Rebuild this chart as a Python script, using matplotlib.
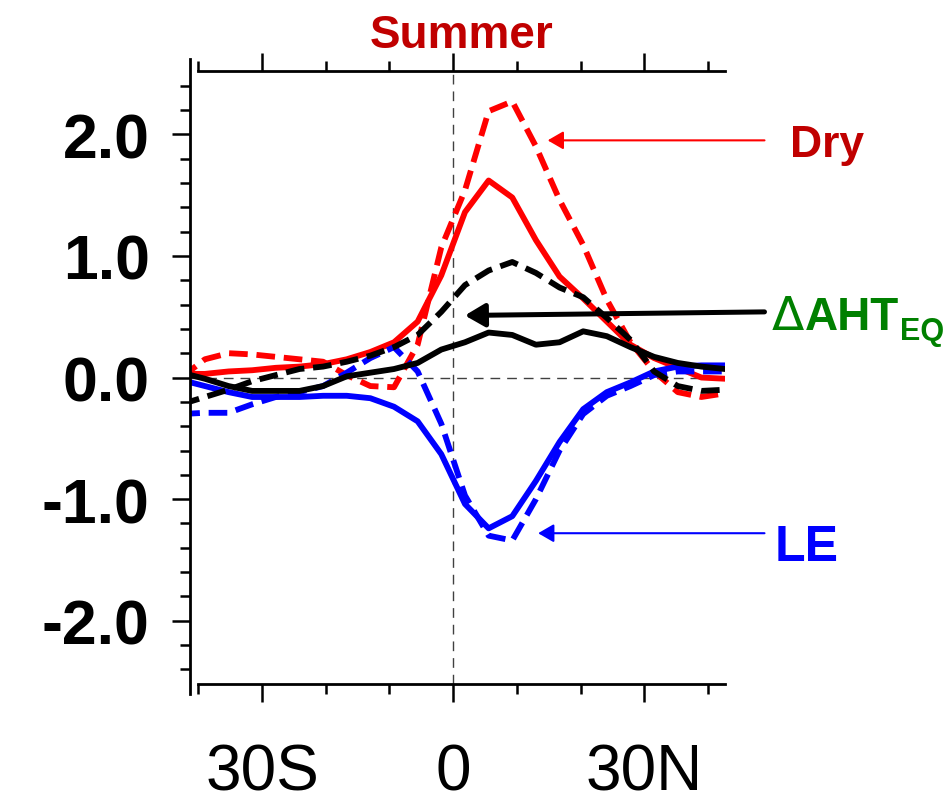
import numpy as np
import matplotlib
matplotlib.use('Agg')
import matplotlib.pyplot as plt

# latitudes (gaussian grid points) and the six curves
lat = [-42.67, -38.96, -35.25, -31.54, -27.83, -24.12, -20.41, -16.70,
       -12.99, -9.28, -5.57, -1.86, 1.86, 5.57, 9.28, 12.99,
       16.70, 20.41, 24.12, 27.83, 31.54, 35.25, 38.96, 42.67]

dry_solid = [0.03, 0.03, 0.05, 0.06, 0.08, 0.09, 0.11, 0.15, 0.21, 0.29, 0.46, 0.84,
             1.36, 1.62, 1.48, 1.13, 0.83, 0.65, 0.46, 0.27, 0.16, 0.08, 0.0, -0.01]
dry_dash = [0.0, 0.15, 0.20, 0.19, 0.17, 0.15, 0.13, 0.02, -0.07, -0.08, 0.27, 1.07,
            1.54, 2.19, 2.27, 1.90, 1.46, 1.09, 0.64, 0.29, 0.05, -0.12, -0.16, -0.13]
aht_solid = [0.04, -0.01, -0.07, -0.11, -0.11, -0.11, -0.07, 0.01, 0.04, 0.07, 0.12, 0.23,
             0.29, 0.37, 0.35, 0.27, 0.29, 0.38, 0.34, 0.25, 0.17, 0.12, 0.09, 0.07]
aht_dash = [-0.22, -0.16, -0.10, -0.03, 0.02, 0.07, 0.09, 0.13, 0.18, 0.25, 0.35, 0.54,
            0.76, 0.88, 0.95, 0.86, 0.74, 0.66, 0.49, 0.31, 0.05, -0.07, -0.11, -0.10]
le_solid = [-0.02, -0.07, -0.12, -0.16, -0.16, -0.16, -0.15, -0.15, -0.17, -0.24, -0.36, -0.63,
            -1.04, -1.24, -1.14, -0.85, -0.53, -0.26, -0.12, -0.04, 0.05, 0.09, 0.10, 0.10]
le_dash = [-0.30, -0.29, -0.29, -0.22, -0.16, -0.12, -0.07, 0.04, 0.16, 0.25, 0.05, -0.38,
           -0.97, -1.30, -1.34, -1.00, -0.60, -0.30, -0.15, -0.07, 0.02, 0.05, 0.05, 0.05]

xticks = [-30, 0, 30]
xlabels = ['30S', '0', '30N']
yticks = [-2, -1, 0, 1, 2]
ylabels = ['-2.0', '-1.0', '0.0', '1.0', '2.0']

fig = plt.figure(figsize=(9.48, 8.03), dpi=100)
ax = fig.add_axes([0.2004, 0.1469, 0.5644, 0.7634])

# zero lines
ax.axhline(0, color='0.25', lw=1, dashes=(7, 5), zorder=1)
ax.axvline(0, color='0.25', lw=1, dashes=(7, 5), zorder=1)

lw = 4.2
dsh = (3.2, 1.5)
ax.plot(lat, dry_solid, color='red', lw=lw)
ax.plot(lat, dry_dash, color='red', lw=lw, dashes=dsh)
ax.plot(lat, le_solid, color='blue', lw=lw)
ax.plot(lat, le_dash, color='blue', lw=lw, dashes=dsh)
ax.plot(lat, aht_solid, color='black', lw=lw)
ax.plot(lat, aht_dash, color='black', lw=lw, dashes=dsh)

ax.set_xlim(-41.3, 42.67)
ax.set_ylim(-2.52, 2.52)

# axes frame: no right spine, left spine a bit longer
ax.spines['right'].set_visible(False)
ax.spines['top'].set_bounds(-40, 42.67)
ax.spines['bottom'].set_bounds(-40, 42.67)
ax.spines['left'].set_bounds(-2.6, 2.62)
for s in ['left', 'top', 'bottom']:
    ax.spines[s].set_linewidth(2)

ax.set_xticks(xticks)
ax.set_xticklabels(xlabels)
ax.set_xticks(np.arange(-40, 41, 10), minor=True)
ax.set_yticks(yticks)
ax.set_yticklabels(ylabels)
ax.set_yticks(np.arange(-2.4, 2.41, 0.2), minor=True)

ax.tick_params(which='both', direction='out', width=1.8, top=True, right=False)
ax.tick_params(which='major', length=13)
ax.tick_params(which='minor', length=7)
ax.tick_params(axis='x', which='major', pad=29, labelsize=46)
ax.tick_params(axis='y', which='major', pad=16, labelsize=45)
for t in ax.get_xticklabels():
    t.set_fontfamily('Liberation Sans')
for t in ax.get_yticklabels():
    t.set_fontfamily('Liberation Sans')
    t.set_fontweight('bold')

# title
fig.text(462/948, 1 - 36/803, 'Summer', color='#c00000', fontsize=33,
         fontweight='bold', family='Liberation Sans', ha='center', va='center')

# arrows and labels
ax.annotate('', xy=(14.4, 1.95), xytext=(49.3, 1.95), annotation_clip=False,
            arrowprops=dict(arrowstyle='-|>,head_length=0.95,head_width=0.55',
                            mutation_scale=10, color='red', lw=1.5))
ax.annotate('', xy=(1.4, 0.51), xytext=(49.3, 0.54), annotation_clip=False,
            arrowprops=dict(arrowstyle='-|>,head_length=1.2,head_width=0.7',
                            mutation_scale=10, color='black', lw=3.6))
ax.annotate('', xy=(12.9, -1.28), xytext=(49.3, -1.28), annotation_clip=False,
            arrowprops=dict(arrowstyle='-|>,head_length=0.95,head_width=0.55',
                            mutation_scale=10, color='blue', lw=1.5))

fig.text(790/948, 1 - 145/803, 'Dry', color='#c00000', fontsize=32,
         fontweight='bold', family='Liberation Sans', ha='left', va='center')
fig.text(775/948, 1 - 548/803, 'LE', color='blue', fontsize=36,
         fontweight='bold', family='Liberation Sans', ha='left', va='center')

# delta (thin), AHT (bold), EQ subscript
fig.canvas.draw()
r = fig.canvas.get_renderer()
t0 = fig.text(772/948, 1 - 330/803, '\u0394', color='green', fontsize=34,
              family='DejaVu Sans', ha='left', va='baseline')
x = t0.get_window_extent(r).x1
t1 = fig.text(x/948, 1 - 330/803, 'AHT', color='green', fontsize=33,
              fontweight='bold', family='Liberation Sans', ha='left', va='baseline')
x = t1.get_window_extent(r).x1
fig.text(x/948 + 0.001, 1 - 340/803, 'EQ', color='green', fontsize=22,
         fontweight='bold', family='Liberation Sans', ha='left', va='baseline')

fig.savefig('out.png', dpi=100)
